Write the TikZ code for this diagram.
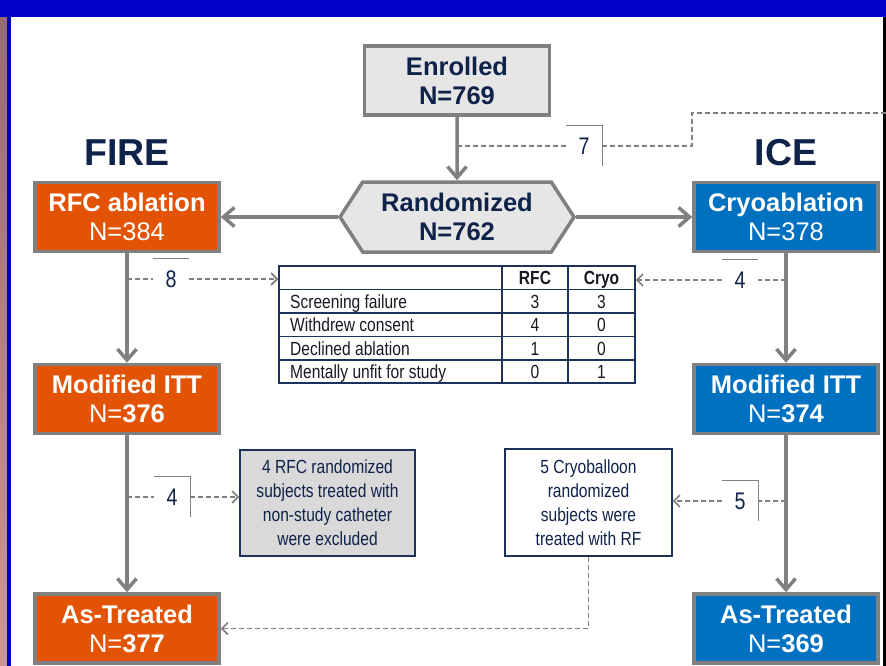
\documentclass[tikz,border=0pt]{standalone}
\usepackage{fontspec}
\setmainfont{Liberation Sans}
\newfontfamily\narrowfont[FakeStretch=0.82]{Liberation Sans}
\usetikzlibrary{arrows.meta, positioning, calc, shapes.symbols}
\definecolor{slideblue}{RGB}{0,0,200}
\definecolor{photodark}{RGB}{150,105,120}
\definecolor{photolight}{RGB}{205,150,150}
\definecolor{navytext}{RGB}{14,34,74}
\definecolor{navyline}{RGB}{28,50,92}
\definecolor{edgegray}{RGB}{128,128,128}
\definecolor{boxgray}{RGB}{230,230,230}
\definecolor{notegray}{RGB}{217,217,217}
\definecolor{fireorange}{RGB}{226,83,6}
\definecolor{iceblue}{RGB}{0,112,192}
\definecolor{celltext}{RGB}{25,25,35}
\tikzset{every node/.append style={align=center}}
\tikzset{
  grybox/.style={rectangle, draw=edgegray, fill=boxgray, line width=3.5pt,
    minimum width=185pt, minimum height=69pt, inner sep=0pt, text=navytext,
    font=\fontsize{25.5}{29}\selectfont\bfseries},
  firebox/.style={grybox, fill=fireorange, text=white, minimum width=184pt},
  icebox/.style={grybox, fill=iceblue, text=white, minimum width=184pt},
  ttl/.style={font=\fontsize{37.5}{40}\selectfont\bfseries, text=navytext},
  flow/.style={-{Straight Barb[length=11pt,width=19pt]}, line width=3.5pt, edgegray},
  drop/.style={line width=1.6pt, edgegray, dash pattern=on 5pt off 3pt},
  dropto/.style={drop, -{Straight Barb[length=6pt,width=12pt]}},
  cnt/.style={font=\narrowfont\fontsize{24}{26}\selectfont, text=navytext,
    minimum width=36pt, minimum height=40pt, inner sep=0pt},
  brk/.style={line width=1pt, edgegray},
  note/.style={rectangle, draw=navyline, line width=1.5pt, inner sep=0pt,
    font=\narrowfont\fontsize{19}{24}\selectfont, text=navytext},
  tbl/.style={rectangle, draw=navyline, line width=1.5pt, fill=white,
    minimum width=356pt, minimum height=117pt, inner sep=0pt},
  tline/.style={line width=1.3pt, navyline},
  tcell/.style={font=\narrowfont\fontsize{19}{22}\selectfont, text=celltext,
    inner sep=0pt, anchor=base},
  thead/.style={tcell, font=\narrowfont\fontsize{19}{22}\selectfont\bfseries}
}
\begin{document}
\begin{tikzpicture}[x=1pt, y=-1pt]
  \useasboundingbox (0,0) rectangle (886,666);
  % slide frame
  \fill[white] (0,0) rectangle (886,666);
  \shade[top color=photodark, bottom color=photolight] (0,0) rectangle (7,666);
  \fill[slideblue] (7,0) rectangle (11,666);
  \fill[slideblue] (0,0) rectangle (886,17);
  \fill[black] (883,17) rectangle (886,666);

  % titles
  \node[ttl] (fire) at (127,153) {FIRE};
  \node[ttl] (ice) at (786,153) {ICE};

  % main boxes
  \node[grybox] (enrol) at (457,80.5) {Enrolled\\N=769};
  \node[grybox, signal, signal to=west and east, signal pointer angle=114,
    minimum width=234pt, minimum height=70pt] (rand) at (457,217) {Randomized\\N=762};
  \node[firebox] (rfc) at (127,217) {RFC ablation\\\mdseries N=384};
  \node[icebox] (cryo) at (786,217) {Cryoablation\\\mdseries N=378};
  \node[firebox] (ittl) at (127,399) {Modified ITT\\\mdseries N=\bfseries 376};
  \node[icebox] (ittr) at (786,399) {Modified ITT\\\mdseries N=\bfseries 374};
  \node[firebox] (atl) at (127,628.5) {As-Treated\\\mdseries N=\bfseries 377};
  \node[icebox] (atr) at (786,628.5) {As-Treated\\\mdseries N=\bfseries 369};

  \draw[flow] (enrol) -- (rand);
  \draw[flow] (rand.west) -- (rfc.east);
  \draw[flow] (rand.east) -- (cryo.west);
  \draw[flow] (rfc) -- (ittl);
  \draw[flow] (cryo) -- (ittr);
  \draw[flow] (ittl) -- (atl);
  \draw[flow] (ittr) -- (atr);

  % exclusion table
  \node[tbl] (excltab) at (457,324.5) {};
  \foreach \yy in {289.5,313,336.5,360}
    \draw[tline] (279,\yy) -- (635,\yy);
  \draw[tline] (502,266) -- (502,383);
  \draw[tline] (568,266) -- (568,383);
  \node[thead] (hrfc) at (535,284.5) {RFC};
  \node[thead] (hcryo) at (601.5,284.5) {Cryo};
  \foreach \lbl/\ra/\rb [count=\i] in {Screening failure/3/3, Withdrew consent/4/0,
      Declined ablation/1/0, Mentally unfit for study/0/1} {
    \node[tcell, anchor=base west] (lbl\i) at (290,284.5+23.5*\i) {\lbl};
    \node[tcell] (ra\i) at (535,284.5+23.5*\i) {\ra};
    \node[tcell] (rb\i) at (601.5,284.5+23.5*\i) {\rb};
  }

  % notes
  \node[note, fill=notegray, minimum width=175pt, minimum height=106pt] (excl) at (327.5,503)
    {4 RFC randomized\\subjects treated with\\non-study catheter\\were excluded};
  \node[note, fill=white, minimum width=167pt, minimum height=107pt] (rfbox) at (588.5,502.5)
    {5 Cryoballoon\\randomized\\subjects were\\treated with RF};

  % counts
  \node[cnt] (n7) at (584,146) {7};
  \node[cnt] (n8) at (171,279) {8};
  \node[cnt] (n4a) at (740,280) {4};
  \node[cnt] (n4b) at (172,497) {4};
  \node[cnt] (n5) at (740,501) {5};
  \draw[brk] (n7.north west) -- (n7.north east) -- (n7.south east);
  \draw[brk] (n8.north west) -- (n8.north east);
  \draw[brk] (n4a.north west) -- (n4a.north east);
  \draw[brk] (n4b.north west) -- (n4b.north east) -- (n4b.south east);
  \draw[brk] (n5.north west) -- (n5.north east) -- (n5.south east);

  \coordinate (t7) at (457,146);
  \coordinate (c7) at (692,113);
  \coordinate (e7) at (886,113);
  \coordinate (t8) at (127,279);
  \coordinate (t4a) at (786,280);
  \coordinate (t4b) at (127,497);
  \coordinate (t5) at (786,501);

  \draw[drop] (t7) -- (n7.west);
  \draw[drop] (n7.east) -| (c7) -- (e7);
  \draw[drop] (t8) -- (n8.west);
  \draw[dropto] (n8.east) -- (excltab.west |- n8);
  \draw[drop] (t4a) -- (n4a.east);
  \draw[dropto] (n4a.west) -- (excltab.east |- n4a);
  \draw[drop] (t4b) -- (n4b.west);
  \draw[dropto] (n4b.east) -- (excl.west |- n4b);
  \draw[drop] (t5) -- (n5.east);
  \draw[dropto] (n5.west) -- (rfbox.east |- n5);
  \draw[dropto] (rfbox.south) |- (atl.east);
\end{tikzpicture}
\end{document}
